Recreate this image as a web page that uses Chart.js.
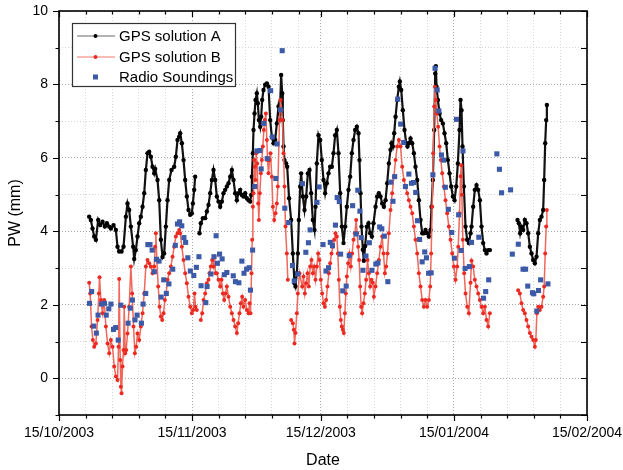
<!DOCTYPE html>
<html>
<head>
<meta charset="utf-8">
<title>PW time series</title>
<script src="https://cdn.jsdelivr.net/npm/chart.js@4.4.1/dist/chart.umd.min.js"></script>
<style>
    html, body { margin: 0; padding: 0; background: #fff; }
    #wrap { width: 623px; height: 470px; }
</style>
</head>
<body>
<div id="wrap"><canvas id="pwChart" width="623" height="470"></canvas></div>
<script>
(function () {
    'use strict';

    // x values are days counted from 15/10/2003
    const monthTickDays = [0, 31, 61, 92, 123];
    const monthTickLabels = ['15/10/2003', '15/11/2003', '15/12/2003', '15/01/2004', '15/02/2004'];
    const yTickLabels = [0, 2, 4, 6, 8, 10];

    const gpsADays = [
        7.03, 7.42, 7.81, 8.20, 8.59, 9.13, 9.60, 10.14, 10.68, 11.15,
        11.69, 12.08, 12.70, 13.25, 13.63, 14.02, 14.57, 15.03, 15.58, 15.96,
        16.35, 16.74, 17.28, 17.52, 17.90, 18.29, 18.68, 19.07, 19.46, 19.85,
        20.23, 20.62, 21.01, 21.40, 21.79, 22.18, 22.41, 22.95, 23.34, 23.73,
        24.12, 24.50, 24.89, 25.28, 25.67, 26.21, 26.83, 27.22, 27.61, 28.00,
        28.23, 28.62, 29.01, 29.39, 29.78, 30.17, 30.56, 30.95, 31.18, 31.49,
        31.72, 32.20, 32.73, 33.04, 33.51, 34.05, 34.44, 34.83, 35.22, 35.61,
        35.99, 36.38, 36.77, 37.16, 37.55, 37.94, 38.32, 38.71, 39.10, 39.49,
        39.88, 40.27, 40.65, 41.04, 41.43, 41.82, 42.21, 42.60, 42.98, 43.37,
        43.76, 44.15, 44.54, 44.77, 44.93, 45.16, 45.31, 45.55, 45.78, 46.09,
        46.32, 46.56, 46.87, 47.10, 47.33, 47.64, 48.03, 48.42, 48.81, 49.20,
        49.58, 49.97, 50.36, 50.75, 51.14, 51.45, 51.75, 51.99, 52.14, 52.30,
        52.53, 52.92, 53.15, 53.60, 54.08, 54.47, 54.86, 55.09, 55.40, 55.64,
        55.87, 56.18, 56.41, 56.80, 57.19, 57.58, 57.97, 58.36, 58.74, 59.13,
        59.52, 59.75, 60.06, 60.45, 60.84, 61.23, 61.62, 62.00, 62.39, 62.78,
        63.17, 63.56, 63.95, 64.33, 64.72, 65.11, 65.50, 65.89, 66.28, 66.66,
        67.05, 67.44, 67.83, 68.22, 68.61, 68.99, 69.38, 69.77, 70.00, 70.24,
        70.47, 70.78, 71.01, 71.32, 71.71, 72.10, 72.49, 72.88, 73.26, 73.74,
        74.12, 74.51, 74.90, 75.29, 75.68, 76.07, 76.45, 76.84, 77.23, 77.46,
        77.77, 78.08, 78.40, 78.78, 79.17, 79.40, 79.72, 80.10, 80.49, 80.88,
        81.19, 81.50, 81.89, 82.28, 82.67, 83.05, 83.44, 83.83, 84.22, 84.61,
        85.00, 85.38, 85.77, 86.16, 86.55, 86.78, 87.09, 87.40, 87.64, 87.79,
        87.95, 88.26, 88.65, 89.03, 89.42, 89.81, 90.20, 90.59, 90.98, 91.36,
        91.75, 92.14, 92.53, 92.92, 93.30, 93.54, 93.77, 94.00, 94.31, 94.70,
        95.09, 95.48, 95.87, 96.10, 96.48, 96.87, 97.26, 97.65, 98.04, 98.43,
        98.81, 99.20, 99.59, 99.98, 100.37, 103.00, 106.81, 107.12, 107.43, 107.74,
        108.13, 108.52, 108.91, 109.30, 109.69, 110.07, 110.46, 110.85, 111.24, 111.63,
        112.02, 112.40, 112.79, 113.02, 113.26, 113.49, 113.65
    ];
    const gpsAValues = [
        4.40, 4.31, 4.08, 3.86, 3.77, 4.31, 4.17, 4.26, 4.13, 4.22,
        4.13, 4.08, 4.17, 4.04, 3.58, 3.45, 3.45, 3.58, 4.40, 4.76,
        4.58, 4.13, 3.58, 3.25, 3.49, 3.86, 4.22, 4.40, 4.67, 5.04,
        5.67, 6.13, 6.17, 6.03, 5.76, 5.58, 5.70, 5.40, 4.85, 3.77,
        3.30, 3.40, 4.13, 4.85, 5.40, 5.67, 5.76, 6.03, 6.49, 6.58,
        6.67, 6.40, 5.94, 5.40, 4.95, 4.58, 4.45, 4.49, 4.76, 5.13,
        5.49, null, 3.95, 4.22, 4.36, 4.36, 4.54, 4.72, 5.04, 5.40,
        5.67, 5.40, 4.95, 4.81, 4.67, 4.81, 5.04, 5.13, 5.22, 5.31,
        5.49, 5.67, 5.40, 5.04, 4.85, 5.04, 5.13, 4.99, 4.95, 5.04,
        4.90, 4.85, 4.81, 4.99, 5.49, 6.13, 6.76, 7.21, 7.58, 7.76,
        7.49, 7.03, 6.85, 7.12, 7.58, 7.85, 7.99, 8.03, 7.94, 7.03,
        6.58, 6.40, 6.49, 6.94, 7.40, 7.20, 8.26, 7.76, 7.03, 6.31,
        5.94, 5.85, 5.76, 4.90, 4.31, 3.40, 2.59, 2.50, 2.86, 3.40,
        4.31, 5.22, 5.58, 4.95, 4.58, 4.95, 5.58, 5.67, 5.04, 4.31,
        4.04, 4.67, 5.85, 6.62, 6.49, 5.94, 5.40, 5.04, 5.31, 5.58,
        5.76, 5.76, 6.13, 6.62, 6.76, 6.13, 5.04, 4.13, 3.68, 4.13,
        4.67, 5.13, 5.49, 6.13, 6.49, 6.76, 6.85, 6.67, 5.94, 5.04,
        4.13, 3.50, 3.20, 3.60, 4.13, 4.22, 3.95, 3.86, 4.22, 4.67,
        4.95, 5.04, 4.95, 4.76, 4.67, 4.85, 5.31, 5.85, 6.22, 6.40,
        6.31, 6.67, 7.12, 7.58, 7.94, 8.08, 7.85, 7.30, 6.76, 6.40,
        6.31, 6.40, 6.53, 6.40, 6.13, 5.76, 5.40, 4.85, 4.31, 3.95,
        3.95, 4.04, 3.95, 3.86, 4.04, 4.67, 5.40, 6.76, 8.30, 8.50,
        7.94, 7.58, 7.21, 7.03, 6.94, 6.67, 6.40, 5.94, 5.58, 5.22,
        4.95, 4.85, 5.22, 5.85, 6.76, 7.58, 7.30, 6.31, 5.22, 4.13,
        3.77, 3.68, 3.95, 4.13, 4.67, 5.13, 5.26, 5.13, 4.85, 4.13,
        3.68, 3.49, 3.40, 3.49, 3.49, null, 4.31, 4.22, 3.95, 4.13,
        4.04, 4.31, 4.22, 3.95, 3.58, 3.40, 3.22, 3.13, 3.31, 3.95,
        4.31, 4.40, 4.58, 5.40, 6.40, 7.03, 7.44
    ];

    const gpsBDays = [
        7.03, 7.26, 7.58, 7.89, 8.20, 8.59, 8.98, 9.29, 9.44, 9.75,
        10.14, 10.53, 10.92, 11.31, 11.69, 12.08, 12.47, 12.86, 13.25, 13.63,
        13.87, 14.02, 14.26, 14.41, 14.57, 14.80, 15.03, 15.19, 15.42, 15.65,
        15.96, 16.35, 16.74, 17.05, 17.36, 17.67, 17.98, 18.29, 18.68, 19.07,
        19.46, 19.85, 20.23, 20.62, 21.01, 21.40, 21.79, 22.18, 22.41, 22.56,
        22.80, 23.11, 23.42, 23.73, 24.04, 24.35, 24.66, 24.97, 25.28, 25.67,
        26.06, 26.45, 26.83, 27.22, 27.61, 28.00, 28.23, 28.62, 29.01, 29.39,
        29.78, 30.17, 30.56, 30.95, 31.26, 31.57, 31.80, 32.10, 32.40, 33.04,
        33.36, 33.67, 34.05, 34.44, 34.83, 35.06, 35.37, 35.68, 35.99, 36.23,
        36.46, 36.77, 37.16, 37.55, 37.86, 38.17, 38.48, 38.79, 39.10, 39.49,
        39.88, 40.27, 40.65, 41.04, 41.43, 41.74, 42.05, 42.36, 42.67, 42.98,
        43.37, 43.76, 44.15, 44.38, 44.61, 44.85, 45.00, 45.16, 45.31, 45.47,
        45.62, 45.78, 45.93, 46.17, 46.40, 46.56, 46.79, 47.02, 47.25, 47.49,
        47.72, 47.95, 48.19, 48.42, 48.57, 48.81, 49.04, 49.27, 49.58, 49.82,
        50.13, 50.44, 50.75, 50.98, 51.37, 51.60, 51.83, 52.07, 52.30, 52.53,
        52.76, 53.07, 53.31, 53.70, 54.08, 54.47, 54.71, 54.86, 55.09, 55.40,
        55.64, 56.03, 56.65, 56.96, 57.27, 57.58, 57.89, 58.20, 58.51, 58.82,
        59.13, 59.44, 59.75, 60.06, 60.37, 60.68, 60.99, 61.30, 61.62, 61.93,
        62.24, 62.55, 62.86, 63.17, 63.48, 63.79, 64.10, 64.41, 64.72, 64.96,
        65.19, 65.42, 65.65, 65.89, 66.12, 66.35, 66.59, 66.82, 67.05, 67.36,
        67.67, 67.98, 68.29, 68.61, 68.92, 69.23, 69.46, 69.69, 69.92, 70.16,
        70.39, 70.62, 70.93, 71.24, 71.55, 71.87, 72.18, 72.49, 72.80, 73.11,
        73.35, 73.74, 74.12, 74.51, 74.90, 75.29, 75.60, 75.91, 76.22, 76.53,
        76.84, 77.23, 77.62, 78.01, 78.40, 78.78, 79.17, 79.56, 79.95, 80.34,
        80.73, 81.11, 81.50, 81.89, 82.28, 82.67, 83.05, 83.44, 83.83, 84.22,
        84.61, 85.00, 85.38, 85.77, 86.16, 86.47, 86.70, 86.94, 87.17, 87.40,
        87.56, 87.79, 88.02, 88.33, 88.65, 88.96, 89.27, 89.66, 90.04, 90.43,
        90.82, 91.21, 91.60, 91.99, 92.37, 92.76, 93.00, 93.30, 93.54, 93.70,
        93.85, 94.08, 94.39, 94.70, 95.09, 95.48, 95.87, 96.10, 96.48, 96.87,
        97.26, 97.65, 98.04, 98.43, 98.81, 99.20, 99.59, 99.98, 100.37, 103.00,
        106.96, 107.36, 107.74, 108.13, 108.52, 108.91, 109.30, 109.69, 110.07, 110.46,
        110.85, 111.08, 111.32, 111.63, 112.02, 112.40, 112.79, 113.02, 113.26, 113.49,
        113.65
    ];
    const gpsBValues = [
        2.60, 2.31, 1.41, 1.04, 0.86, 0.95, 1.59, 2.31, 2.75, 2.13,
        1.77, 2.13, 1.41, 0.95, 0.68, 1.04, 0.86, 0.32, 0.05, -0.05,
        0.86, 2.70, 0.50, -0.23, -0.41, 0.32, 0.77, 1.95, 0.68, 0.77,
        1.22, 1.95, 3.04, 2.31, 1.41, 0.68, 0.86, 1.22, 1.04, 1.41,
        1.77, 2.31, 3.04, 3.22, 3.13, 3.04, 2.86, 3.04, 3.58, 3.95,
        3.22, 2.50, 1.95, 1.68, 1.59, 1.77, 2.13, 2.31, 2.68, 2.86,
        3.04, 3.31, 3.58, 3.86, 3.95, 4.04, 3.95, 3.58, 3.22, 2.86,
        2.59, 2.22, 1.95, 1.77, 1.86, 2.31, 1.95, 1.86, null, 1.59,
        1.77, 2.13, 2.31, 2.59, 2.68, 2.86, 3.04, 3.22, 3.04, 3.31,
        2.86, 2.86, 2.68, 2.50, 2.68, 2.31, 2.13, 2.31, 2.50, 2.22,
        1.95, 1.77, 1.59, 1.41, 1.23, 1.50, 1.77, 2.04, 2.22, 1.95,
        2.13, 1.86, 1.77, 2.04, 1.77, 2.86, 3.77, 4.67, 5.04, 5.94,
        5.76, 5.40, 6.13, 5.85, 4.76, 4.31, 5.04, 5.58, 5.94, 6.31,
        6.76, 7.03, 7.21, 6.49, 5.94, 5.58, 5.94, 6.13, 5.49, 4.67,
        4.31, 4.49, 4.76, 5.22, 7.03, 7.58, 7.30, 7.03, 6.13, 5.22,
        4.13, 3.40, 2.68, null, 1.59, 1.50, 1.32, 0.95, 1.23, 1.77,
        2.31, 2.86, 2.50, 2.77, 2.31, 2.59, 2.86, 2.50, 3.04, 3.22,
        2.86, 3.04, 2.68, 3.04, 3.40, 3.22, 2.68, 2.31, 2.04, 1.95,
        2.13, 2.50, 2.86, 3.13, 3.40, 3.58, 3.77, 3.95, 3.86, 3.40,
        2.68, 1.95, 1.59, 1.41, 1.32, 1.23, 1.77, 2.31, 2.77, 3.13,
        3.40, 3.04, 3.40, 3.77, 3.95, 4.31, 3.95, 3.58, 3.22, 2.50,
        1.95, 1.77, 2.04, 2.31, 2.68, 3.22, 2.86, 2.50, 2.68, 2.60,
        2.22, 2.50, 2.86, 3.22, 3.58, 3.86, 3.40, 2.86, 3.04, 3.40,
        3.95, 4.58, 5.04, 5.49, 5.94, 6.31, 6.49, 6.31, 5.76, 5.40,
        5.22, 5.04, 4.85, 4.67, 4.49, 4.13, 3.77, 3.40, 2.86, 2.50,
        2.13, 1.95, 2.13, 1.95, 2.13, 2.50, 3.40, 4.67, 6.13, 7.40,
        7.94, 7.58, 7.21, 6.85, 6.31, 5.94, 5.58, 5.22, 4.85, 4.49,
        4.13, 3.77, 3.40, 3.04, 2.68, 3.04, 3.58, 4.49, 5.50, 5.80,
        5.00, 3.77, 2.86, 2.31, 1.95, 1.77, 2.60, 3.20, 3.04, 2.68,
        2.50, 2.31, 2.13, 1.95, 1.77, 1.95, 1.59, 1.41, 1.77, null,
        2.40, 2.31, 2.04, 1.86, 1.77, 1.59, 1.41, 1.23, 1.13, 1.04,
        0.86, 1.04, 1.77, 1.95, 1.86, 1.95, 2.22, 2.50, 3.40, 4.13,
        4.58
    ];

    const radioDays = [
        7.1, 7.6, 8.1, 8.7, 9.1, 9.9, 10.6, 11.0, 11.6, 12.1,
        12.7, 13.2, 13.8, 14.4, 16.1, 16.6, 17.1, 17.7, 18.2, 19.2,
        19.6, 20.2, 20.7, 21.2, 21.7, 22.2, 22.7, 23.3, 23.8, 24.4,
        25.0, 25.6, 26.5, 27.1, 27.6, 28.1, 28.6, 29.1, 29.5, 30.0,
        30.6, 31.4, 32.0, 32.6, 33.1, 34.2, 34.5, 35.4, 36.1, 36.6,
        36.9, 37.4, 38.0, 38.5, 39.1, 40.6, 41.1, 41.9, 42.6, 43.1,
        43.7, 44.3, 44.6, 45.1, 45.6, 46.1, 46.8, 47.1, 47.7, 48.5,
        49.3, 49.7, 50.5, 50.8, 51.6, 52.0, 52.6, 53.5, 54.4, 54.8,
        55.6, 56.7, 57.5, 58.1, 58.5, 60.1, 60.6, 61.5, 62.2, 62.8,
        63.2, 63.7, 64.4, 64.8, 65.3, 65.6, 66.1, 66.9, 67.6, 68.4,
        69.2, 69.6, 70.1, 70.4, 70.8, 71.5, 72.3, 72.9, 73.8, 74.3,
        74.7, 75.2, 75.8, 76.6, 77.3, 77.8, 78.2, 78.9, 79.6, 80.3,
        80.7, 81.5, 82.1, 82.6, 83.1, 83.5, 84.0, 84.6, 85.2, 85.6,
        86.1, 86.7, 87.1, 87.6, 88.1, 88.5, 89.1, 89.6, 90.0, 90.7,
        91.5, 92.1, 92.6, 93.1, 93.7, 94.1, 94.6, 95.6, 96.1, 97.8,
        98.9, 99.4, 100.1, 102.0, 102.6, 103.1, 105.2, 105.6, 107.0, 108.1,
        108.7, 109.2, 110.3, 110.6, 111.3, 111.7, 112.2, 113.9
    ];
    const radioValues = [
        2.04, 2.36, 1.42, 1.23, 1.72, 2.02, 2.04, 1.72, 1.89, 2.02,
        1.33, 1.38, 1.04, 1.99, 1.50, 1.91, 2.13, 1.59, 1.72, 1.50,
        2.02, 2.31, 3.64, 3.64, 3.49, 2.90, 3.24, 3.19, 2.21, 2.68,
        2.31, 2.57, 2.97, 3.62, 4.20, 4.26, 4.15, 3.83, 3.70, 3.28,
        2.92, 2.80, 3.02, 3.31, 2.52, 2.06, 2.50, 2.84, 3.31, 3.88,
        3.13, 3.38, 3.25, 2.82, 2.88, 2.79, 2.63, 2.60, 3.19, 2.86,
        2.97, 3.01, 2.40, 3.49, 5.22, 6.19, 6.20, 5.70, 6.94, 5.98,
        7.83, 6.57, 5.44, 6.38, 7.31, 8.92, 4.63, 4.24, 3.07, 2.65,
        2.84, 5.30, 3.43, 3.69, 4.04, 4.79, 5.21, 3.64, 2.92, 3.01,
        3.70, 3.61, 4.17, 4.92, 4.81, 3.38, 2.38, 2.51, 3.34, 4.70,
        3.93, 5.12, 4.55, 3.83, 2.94, 3.33, 3.69, 2.94, 3.11, 3.14,
        4.12, 4.07, 3.87, 2.63, 5.34, 4.82, 5.49, 7.60, 6.92, 6.42,
        5.22, 5.56, 5.31, 5.33, 5.06, 4.29, 3.78, 3.17, 3.44, 3.28,
        2.86, 2.87, 5.54, 8.44, 7.85, 7.28, 6.08, 5.94, 5.20, 4.60,
        3.97, 3.27, 7.05, 4.45, 3.48, 6.19, 2.99, 3.04, 3.70, 3.84,
        2.18, 2.36, 2.68, 6.11, 5.69, 5.05, 5.13, 3.38, 3.65, 2.97,
        2.97, 2.51, 2.33, 2.30, 1.83, 2.39, 2.68, 2.57
    ];

    const FONT = '"Liberation Sans", Arial, Helvetica, sans-serif';

    function toPoints(days, values) {
        return days.map(function (d, i) { return { x: d, y: values[i] }; });
    }

    // month ticks plus four minor ticks every 6.2 days
    function buildXTicks() {
        const ticks = [];
        monthTickDays.forEach(function (d, i) {
            ticks.push(d);
            if (i < monthTickDays.length - 1) {
                for (let k = 1; k <= 4; k++) {
                    const m = d + k * 6.2;
                    if (m < monthTickDays[i + 1]) {
                        ticks.push(m);
                    }
                }
            }
        });
        return ticks;
    }
    const xTickValues = buildXTicks();

    function isMonthTick(v) {
        return monthTickDays.some(function (d) { return Math.abs(d - v) < 1e-6; });
    }

    const framePlugin = {
        id: 'frameAndLegend',
        afterDraw: function (chart) {
            const ctx = chart.ctx;
            const a = chart.chartArea;
            const xs = chart.scales.x;
            const ys = chart.scales.y;

            ctx.save();
            ctx.strokeStyle = '#000';
            ctx.lineWidth = 1.2;
            ctx.beginPath();
            xs.ticks.forEach(function (t) {
                const px = Math.round(xs.getPixelForValue(t.value)) + 0.5;
                const len = isMonthTick(t.value) ? 6 : 3.5;
                ctx.moveTo(px, a.bottom);
                ctx.lineTo(px, a.bottom + len);
                ctx.moveTo(px, a.top);
                ctx.lineTo(px, a.top + len);
            });
            ys.ticks.forEach(function (t) {
                const py = Math.round(ys.getPixelForValue(t.value)) + 0.5;
                const major = t.value % 2 === 0;
                ctx.moveTo(a.left, py);
                ctx.lineTo(a.left - (major ? 6 : 3.5), py);
                ctx.moveTo(a.right, py);
                ctx.lineTo(a.right - 6, py);
            });
            ctx.stroke();

            ctx.lineWidth = 1.6;
            ctx.strokeRect(a.left, a.top, a.right - a.left, a.bottom - a.top);

            // legend box in the upper left corner
            const box = { x: 72, y: 23, w: 163, h: 63 };
            ctx.fillStyle = '#fff';
            ctx.fillRect(box.x, box.y, box.w, box.h);
            ctx.lineWidth = 1.2;
            ctx.strokeStyle = '#333';
            ctx.strokeRect(box.x + 0.5, box.y + 0.5, box.w, box.h);

            const ds = chart.data.datasets;
            const rows = [36, 57, 77];
            ctx.font = '15px ' + FONT;
            ctx.textBaseline = 'middle';
            ctx.textAlign = 'left';
            ds.slice().sort(function (p, q) { return p.legendIndex - q.legendIndex; })
                .forEach(function (d, i) {
                    const y = rows[i];
                    if (d.showLine !== false) {
                        ctx.strokeStyle = d.legendLineColor;
                        ctx.lineWidth = 1.5;
                        ctx.beginPath();
                        ctx.moveTo(77, y);
                        ctx.lineTo(115, y);
                        ctx.stroke();
                        ctx.fillStyle = d.pointBackgroundColor;
                        ctx.beginPath();
                        ctx.arc(95.5, y, 2, 0, Math.PI * 2);
                        ctx.fill();
                    } else {
                        ctx.fillStyle = d.pointBackgroundColor;
                        ctx.fillRect(93, y - 2.5, 5, 5);
                    }
                    ctx.fillStyle = '#000';
                    ctx.fillText(d.label, 119, y + 0.5);
                });
            ctx.restore();
        }
    };

    Chart.defaults.font.family = FONT;
    Chart.defaults.color = '#000';

    new Chart(document.getElementById('pwChart'), {
        type: 'line',
        data: {
            datasets: [
                {
                    label: 'GPS solution A',
                    legendIndex: 0,
                    order: 3,
                    data: toPoints(gpsADays, gpsAValues),
                    borderColor: '#111',
                    legendLineColor: '#9a9a9a',
                    borderWidth: 2.2,
                    pointRadius: 2.2,
                    pointBorderWidth: 0,
                    pointBackgroundColor: '#000',
                    spanGaps: false,
                    tension: 0
                },
                {
                    label: 'GPS solution B',
                    legendIndex: 1,
                    order: 2,
                    data: toPoints(gpsBDays, gpsBValues),
                    borderColor: '#f0675c',
                    legendLineColor: '#f4a49c',
                    borderWidth: 1.5,
                    pointRadius: 2,
                    pointBorderWidth: 0,
                    pointBackgroundColor: '#ec2a22',
                    spanGaps: false,
                    tension: 0
                },
                {
                    label: 'Radio Soundings',
                    legendIndex: 2,
                    order: 1,
                    data: toPoints(radioDays, radioValues),
                    showLine: false,
                    pointStyle: 'rect',
                    pointRadius: 3.6,
                    pointBorderWidth: 0,
                    pointBackgroundColor: '#3c5aa8',
                    borderColor: '#3c5aa8'
                }
            ]
        },
        options: {
            responsive: false,
            animation: false,
            events: [],
            layout: { padding: { left: 0, right: 36, top: 11, bottom: 0 } },
            plugins: {
                legend: { display: false },
                tooltip: { enabled: false }
            },
            scales: {
                x: {
                    type: 'linear',
                    min: 0,
                    max: 123,
                    afterBuildTicks: function (scale) {
                        scale.ticks = xTickValues.map(function (v) { return { value: v }; });
                    },
                    afterFit: function (scale) {
                        scale.height = 55;
                        scale.paddingLeft = 0;
                        scale.paddingRight = 0;
                    },
                    ticks: {
                        autoSkip: false,
                        maxRotation: 0,
                        padding: 10,
                        font: { size: 14 },
                        callback: function (value) {
                            const i = monthTickDays.findIndex(function (d) { return Math.abs(d - value) < 1e-6; });
                            return i >= 0 ? monthTickLabels[i] : '';
                        }
                    },
                    grid: {
                        drawTicks: false,
                        lineWidth: 1,
                        color: function (c) {
                            return c.tick && isMonthTick(c.tick.value) ? '#a8a8a8' : '#d6d6d6';
                        }
                    },
                    border: { display: false, dash: [1, 2] },
                    title: {
                        display: true,
                        text: 'Date',
                        font: { size: 16 },
                        padding: { top: 0, bottom: 0 }
                    }
                },
                y: {
                    min: -1,
                    max: 10,
                    afterBuildTicks: function (scale) {
                        const t = [];
                        for (let v = -1; v <= 10; v++) { t.push({ value: v }); }
                        scale.ticks = t;
                    },
                    afterFit: function (scale) {
                        scale.width = 59;
                        scale.paddingTop = 0;
                        scale.paddingBottom = 0;
                    },
                    ticks: {
                        padding: 11,
                        font: { size: 14 },
                        callback: function (value) {
                            return yTickLabels.indexOf(value) >= 0 ? String(value) : '';
                        }
                    },
                    grid: {
                        drawTicks: false,
                        lineWidth: 1,
                        color: function (c) {
                            return c.tick && c.tick.value % 2 === 0 ? '#a8a8a8' : '#d6d6d6';
                        }
                    },
                    border: { display: false, dash: [1, 2] },
                    title: {
                        display: true,
                        text: 'PW (mm)',
                        font: { size: 16 },
                        padding: { top: 6, bottom: 0 }
                    }
                }
            }
        },
        plugins: [framePlugin]
    });
})();
</script>
</body>
</html>
